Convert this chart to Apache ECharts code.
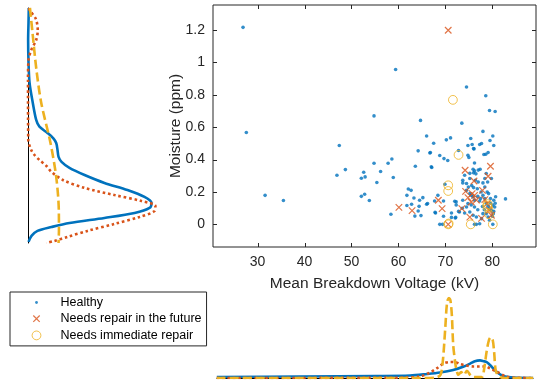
<!DOCTYPE html>
<html>
<head>
<meta charset="utf-8">
<script src="https://cdn.jsdelivr.net/npm/echarts@6/dist/echarts.min.js"></script>
<style>
  html, body { margin: 0; padding: 0; background: #fff; }
  #chart { width: 542px; height: 387px; }
</style>
</head>
<body>
<div id="chart"></div>
<script>
// scatter points: [mean breakdown voltage (kV), moisture (ppm)]
const healthy = [
  [26.9, 1.217], [27.6, 0.567], [31.6, 0.179], [35.5, 0.147], [59.4, 0.957], [74.5, 0.848],
  [78.6, 0.794], [79.4, 0.703], [80.6, 0.697], [54.8, 0.670], [64.7, 0.642], [73.5, 0.625],
  [78.0, 0.574], [66.0, 0.546], [80.1, 0.546], [75.4, 0.530], [71.1, 0.534], [70.2, 0.522],
  [79.5, 0.518], [67.5, 0.501], [75.7, 0.493], [74.8, 0.487], [77.3, 0.493], [77.7, 0.499],
  [80.3, 0.487], [47.4, 0.487], [76.1, 0.466], [64.2, 0.454], [72.8, 0.456], [66.7, 0.441],
  [68.8, 0.425], [69.7, 0.406], [70.5, 0.394], [74.8, 0.427], [78.6, 0.433], [79.1, 0.444],
  [58.6, 0.404], [57.8, 0.377], [54.8, 0.377], [63.6, 0.359], [67.0, 0.355], [76.2, 0.379],
  [48.7, 0.338], [52.6, 0.322], [56.2, 0.326], [46.9, 0.303], [52.9, 0.293], [52.1, 0.285],
  [58.9, 0.289], [55.4, 0.258], [52.1, 0.173], [52.8, 0.186], [53.8, 0.147], [58.4, 0.062],
  [62.1, 0.218], [62.7, 0.210], [61.8, 0.179], [63.3, 0.163], [65.2, 0.165], [64.5, 0.149],
  [66.2, 0.128], [61.8, 0.116], [62.8, 0.124], [64.4, 0.111], [64.2, 0.082], [63.5, 0.051],
  [64.8, 0.054], [68.4, 0.179], [67.8, 0.074], [68.8, 0], [69.4, 0], [72.0, 0.142],
  [72.1, 0.039], [71.3, 0.070], [72.8, 0.080], [82.8, 0.157], [80.1, 0], [76.2, 0],
  [76.6, 0], [69.9, 0.248], [73.7, 0.256], [76.0, 0.227], [67.7, 0.144], [66.0, 0.124],
  [69.6, 0.144], [72.3, 0.140], [72.3, 0.120], [67.9, 0.070], [69.6, 0.050], [71.3, 0.043],
  [72.2, 0.043], [73.6, 0.099], [74.1, 0.070], [76.0, 0.468], [66.8, 0.444], [75.0, 0.413],
  [78.2, 0.431], [67.1, 0.351], [75.9, 0.340], [76.2, 0.330], [77.0, 0.335], [77.4, 0.340],
  [74.1, 0.303], [75.2, 0.283], [78.7, 0.314], [78.4, 0.283], [79.0, 0.262], [79.8, 0.283],
  [76.4, 0.272], [77.0, 0.262], [74.5, 0.210], [75.2, 0.190], [75.5, 0.179], [75.9, 0.169],
  [76.2, 0.149], [76.9, 0.173], [77.3, 0.144], [78.0, 0.179], [78.4, 0.159], [78.7, 0.128],
  [79.1, 0.111], [79.4, 0.097], [79.8, 0.087], [78.7, 0.066], [79.1, 0.045], [79.4, 0.025],
  [78.0, 0.066], [77.7, 0.035], [76.6, 0.045], [75.9, 0.056], [75.2, 0.076], [74.8, 0.128],
  [74.5, 0.107], [76.2, 0.107], [80.3, 0.149], [80.2, 0.066], [73.7, 0.149], [73.0, 0.076],
  [77.3, 0.004], [73.7, 0.272], [74.5, 0.252], [75.2, 0.315], [76.0, 0.318], [76.5, 0.312],
  [78.0, 0.256], [78.4, 0.231], [80.1, 0.118], [80.5, 0.107], [80.3, 0.080], [80.0, 0.050],
  [75.6, 0.240], [76.8, 0.220], [77.6, 0.200], [79.2, 0.190], [79.6, 0.160], [78.9, 0.200],
  [80.6, 0.130], [74.9, 0.230], [77.9, 0.110], [76.9, 0.090], [78.3, 0.090], [75.5, 0.120],
  [79.6, 0.130], [80.7, 0.170], [77.5, 0.160]
];
const repairFuture = [
  [70.6, 1.199], [60.1, 0.105], [62.9, 0.085], [68.5, 0.149], [69.3, 0.097], [70.6, 0],
  [73.5, 0.097], [74.2, 0.334], [76.1, 0.268], [79.1, 0.297], [79.6, 0.359], [74.3, 0.204],
  [74.8, 0.165], [75.5, 0.138], [76.2, 0.179], [77.9, 0.210], [78.4, 0.153], [78.9, 0.128],
  [75.2, 0.045], [77.7, 0.037], [79.8, 0.056], [79.3, 0.087], [75.7, 0.190], [76.6, 0.150]
];
const repairNow = [
  [71.6, 0.769], [72.8, 0.429], [70.6, 0.241], [70.6, 0.206], [70.6, 0], [70.7, 0.005],
  [75.4, 0], [80.1, 0], [78.9, 0.113], [79.1, 0.100], [79.0, 0.125], [79.3, 0.062]
];

const xTicks = [30, 40, 50, 60, 70, 80];
const yTicks = [0, 0.2, 0.4, 0.6, 0.8, 1, 1.2];

// marginal densities of moisture: [moisture, relative density]
const moistKdeHealthy = [
  [1.337, 0.006], [1.25, 0.004], [1.14, 0.001], [1.0, 0.004], [0.873, 0.012], [0.749, 0.037],
  [0.644, 0.063], [0.602, 0.088], [0.563, 0.15], [0.530, 0.195], [0.501, 0.217], [0.458, 0.227],
  [0.415, 0.235], [0.384, 0.258], [0.347, 0.319], [0.303, 0.435], [0.254, 0.588], [0.21, 0.765],
  [0.167, 0.896], [0.13, 0.95], [0.099, 0.935], [0.068, 0.82], [0.037, 0.588], [0.006, 0.319],
  [-0.019, 0.181], [-0.043, 0.073], [-0.074, 0.027], [-0.111, 0.004]
];
const moistKdeFuture = [
  [1.337, 0.008], [1.324, 0.012], [1.27, 0.06], [1.2, 0.075], [1.139, 0.063], [1.077, 0.025],
  [1.015, 0.004], [0.891, 0], [0.52, 0.002], [0.458, 0.025], [0.427, 0.05], [0.396, 0.088],
  [0.359, 0.142], [0.324, 0.178], [0.272, 0.268], [0.223, 0.435], [0.179, 0.665], [0.142, 0.873],
  [0.111, 0.98], [0.08, 0.973], [0.043, 0.858], [0, 0.665], [-0.043, 0.458], [-0.08, 0.304],
  [-0.105, 0.204], [-0.118, 0.14]
];
const moistKdeNow = [
  [1.337, 0.015], [1.182, 0.035], [0.953, 0.065], [0.749, 0.102], [0.501, 0.173],
  [0.291, 0.217], [0.087, 0.237], [-0.037, 0.238], [-0.118, 0.235]
];

// marginal densities of voltage: [voltage, relative density]
const voltKdeHealthy = [
  [21.3, 0.012], [39.0, 0.019], [55.3, 0.025], [62.4, 0.031], [66.0, 0.05], [68.8, 0.069],
  [71.6, 0.1], [73.7, 0.14], [75.2, 0.18], [76.2, 0.21], [77.3, 0.22], [78.1, 0.21],
  [78.7, 0.2], [79.8, 0.14], [80.5, 0.094], [81.2, 0.059], [82.0, 0.031], [83.0, 0.016],
  [84.7, 0.006], [88.6, 0]
];
const voltKdeFuture = [
  [21.3, 0], [60.3, 0.004], [64.5, 0.019], [66.7, 0.07], [68.2, 0.125], [69.5, 0.18],
  [70.9, 0.2], [72.0, 0.2], [73.0, 0.175], [74.3, 0.156], [75.9, 0.144], [77.3, 0.144],
  [78.6, 0.144], [79.4, 0.12], [80.5, 0.09], [81.6, 0.056], [82.8, 0.019], [84.7, 0.004],
  [88.6, 0]
];
const voltKdeNow = [
  [21.3, 0], [64.5, 0], [67.9, 0.006], [68.9, 0.04], [69.4, 0.22], [69.9, 0.62],
  [70.3, 0.95], [70.7, 1.0], [71.0, 0.97], [71.3, 0.79], [71.6, 0.41], [72.0, 0.2],
  [72.3, 0.1], [72.7, 0.04], [73.3, 0.075], [73.9, 0.04], [74.5, 0.09], [75.4, 0.025],
  [76.4, 0.012], [77.7, 0.012], [78.2, 0.125], [78.7, 0.33], [79.2, 0.475], [79.6, 0.51],
  [80.0, 0.475], [80.3, 0.325], [80.7, 0.08], [81.6, 0.012], [82.6, 0], [88.6, 0]
];

const BLUE = '#0072BD';
const ORANGE = '#D95319';
const YELLOW = '#EDB120';
const AXIS = '#262626';
const FONT = 'Liberation Sans, Arial, sans-serif';
const TICK = 4;

const chart = echarts.init(document.getElementById('chart'));

const kdeLine = (name, data, color, type, xi, yi) => ({
  name: name, type: 'line', xAxisIndex: xi, yAxisIndex: yi,
  data: data, showSymbol: false, symbol: 'none', smooth: 0.3,
  lineStyle: { color: color, width: 2.6, type: type, cap: 'butt' },
  silent: true
});

const flip = arr => arr.map(p => [p[1], p[0]]);

// inward ticks on both opposite edges of the box (MATLAB style), placed through the axis scales
const tickLine = (x1, y1, x2, y2) => ({
  type: 'line', shape: { x1: x1, y1: y1, x2: x2, y2: y2 }, style: { stroke: AXIS, lineWidth: 1 }
});
const boxTicks = (data, vertical) => ({
  type: 'custom', xAxisIndex: 0, yAxisIndex: 0, silent: true, z: 10, clip: false,
  data: data,
  renderItem: (params, api) => {
    const cs = params.coordSys;
    const p = api.coord([api.value(0), api.value(1)]);
    if (vertical) {
      const x = Math.round(p[0]) + 0.5;
      const yb = cs.y + cs.height, yt = cs.y;
      return { type: 'group', children: [tickLine(x, yb, x, yb - TICK), tickLine(x, yt, x, yt + TICK)] };
    }
    const y = Math.round(p[1]) + 0.5;
    const xl = cs.x, xr = cs.x + cs.width;
    return { type: 'group', children: [tickLine(xl, y, xl + TICK, y), tickLine(xr, y, xr - TICK, y)] };
  }
});

chart.setOption({
  animation: false,
  backgroundColor: '#fff',
  textStyle: { fontFamily: FONT },
  grid: [
    { left: 213, top: 5, width: 323, height: 242, show: true, borderColor: AXIS, borderWidth: 1 },
    { left: 28, top: 8, width: 130, height: 235 },
    { left: 217, top: 298, width: 316, height: 80 }
  ],
  xAxis: [
    {
      gridIndex: 0, type: 'value', min: 20.5, max: 89.3, position: 'bottom',
      axisLine: { show: false, onZero: false }, splitLine: { show: false }, axisTick: { show: false },
      axisLabel: { customValues: xTicks, color: AXIS, fontSize: 14, margin: 8, fontFamily: FONT },
      name: 'Mean Breakdown Voltage (kV)', nameLocation: 'middle', nameGap: 29, nameMoveOverlap: false,
      nameTextStyle: { color: AXIS, fontSize: 15.5, fontFamily: FONT }
    },
    { gridIndex: 1, type: 'value', min: 0, max: 1, show: false },
    {
      gridIndex: 2, type: 'value', min: 21.34, max: 88.57,
      axisLine: { show: true, onZero: false, lineStyle: { color: '#000', width: 1 } },
      axisTick: { show: false }, axisLabel: { show: false }, splitLine: { show: false }
    }
  ],
  yAxis: [
    {
      gridIndex: 0, type: 'value', min: -0.14, max: 1.355, position: 'left',
      axisLine: { show: false, onZero: false }, splitLine: { show: false }, axisTick: { show: false },
      axisLabel: { customValues: yTicks, color: AXIS, fontSize: 14, margin: 8, fontFamily: FONT },
      name: 'Moisture (ppm)', nameLocation: 'middle', nameGap: 29, nameMoveOverlap: false,
      nameTextStyle: { color: AXIS, fontSize: 15.5, fontFamily: FONT }
    },
    {
      gridIndex: 1, type: 'value', min: -0.118, max: 1.337,
      axisLine: { show: true, onZero: false, lineStyle: { color: '#000', width: 1 } },
      axisTick: { show: false }, axisLabel: { show: false }, splitLine: { show: false }
    },
    { gridIndex: 2, type: 'value', min: 0, max: 1, show: false }
  ],
  legend: {
    orient: 'vertical', left: 10, top: 292,
    padding: [3.5, 5, 3, 5], itemGap: 1.7,
    itemWidth: 38, itemHeight: 10,
    borderColor: AXIS, borderWidth: 1, backgroundColor: '#fff',
    selectedMode: false,
    textStyle: { color: '#000', fontSize: 12.5, fontFamily: FONT, lineHeight: 14 },
    data: [
      {
        name: 'Healthy',
        icon: 'path://M0,0M38,10M17.6,5A1.4,1.4,0,1,0,20.4,5A1.4,1.4,0,1,0,17.6,5Z',
        itemStyle: { color: BLUE, borderWidth: 0 }
      },
      {
        name: 'Needs repair in the future',
        icon: 'path://M0,0M38,10M15.8,1.8L22.2,8.2M22.2,1.8L15.8,8.2',
        itemStyle: { color: 'none', borderColor: ORANGE, borderWidth: 1.2 }
      },
      {
        name: 'Needs immediate repair',
        icon: 'path://M0,0M38,10M14.6,5A4.4,4.4,0,1,0,23.4,5A4.4,4.4,0,1,0,14.6,5Z',
        itemStyle: { color: 'none', borderColor: YELLOW, borderWidth: 1 }
      }
    ]
  },
  series: [
    {
      name: 'Healthy', type: 'scatter', xAxisIndex: 0, yAxisIndex: 0,
      data: healthy, symbol: 'circle', symbolSize: 3.6,
      itemStyle: { color: BLUE }
    },
    {
      name: 'Needs repair in the future', type: 'scatter', xAxisIndex: 0, yAxisIndex: 0,
      data: repairFuture, symbol: 'path://M0,0L10,10M10,0L0,10', symbolSize: 6.5,
      itemStyle: { color: 'none', borderColor: ORANGE, borderWidth: 1.2 }
    },
    {
      name: 'Needs immediate repair', type: 'scatter', xAxisIndex: 0, yAxisIndex: 0,
      data: repairNow, symbol: 'circle', symbolSize: 8.8,
      itemStyle: { color: 'none', borderColor: YELLOW, borderWidth: 1 }
    },
    boxTicks(xTicks.map(v => [v, yTicks[0]]), true),
    boxTicks(yTicks.map(v => [xTicks[0], v]), false),
    kdeLine('moist-h', flip(moistKdeHealthy), BLUE, 'solid', 1, 1),
    kdeLine('moist-f', flip(moistKdeFuture), ORANGE, [2.6, 2.8], 1, 1),
    kdeLine('moist-n', flip(moistKdeNow), YELLOW, [9, 4], 1, 1),
    kdeLine('volt-h', voltKdeHealthy, BLUE, 'solid', 2, 2),
    kdeLine('volt-f', voltKdeFuture, ORANGE, [2.6, 2.8], 2, 2),
    kdeLine('volt-n', voltKdeNow, YELLOW, [9, 4], 2, 2)
  ]
});

window.addEventListener('resize', () => chart.resize());
</script>
</body>
</html>
